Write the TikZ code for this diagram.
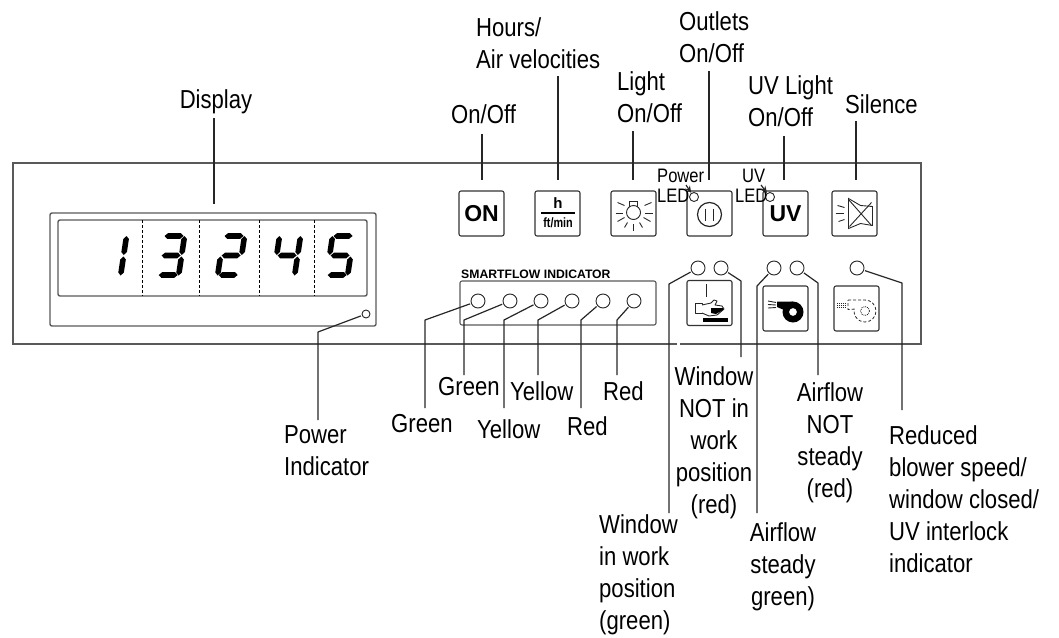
\documentclass[tikz,border=0pt]{standalone}
\usepackage{fontspec}
\setmainfont{Liberation Sans}[FakeStretch = 0.85]
\newfontfamily\iconfont{Liberation Sans}
\usetikzlibrary{arrows.meta}

\tikzset{
	callout/.style = {font = \fontsize{26}{32}\selectfont, inner sep = 0, anchor = base west, align = left},
	calloutmid/.style = {font = \fontsize{26}{32}\selectfont, inner sep = 0, anchor = base, align = center},
	smalltag/.style = {font = \fontsize{19.5}{20}\selectfont, inner sep = 0, anchor = base west},
	leader/.style = {line width = 1.2pt, black!85},
	panelline/.style = {line width = 1.4pt, black!65},
	button/.style = {draw, line width = 1.1pt, black!80, text = black, rounded corners = 2pt, minimum size = 45pt, inner sep = 0},
	led/.style = {draw, circle, line width = 0.9pt, black!85, fill = white, minimum size = 14pt, inner sep = 0},
	tinyled/.style = {led, minimum size = 9pt},
	icon/.style = {line width = 0.9pt, black!85}
}

% Seven segment display
\newcommand{\hseg}[3]{\fill (#1, #2) -- ++(3, -2.8) -- ++(#3 - 6, 0) -- ++(3, 2.8) -- ++(-3, 2.8) -- ++(-#3 + 6, 0) -- cycle;}
\newcommand{\vseg}[3]{\fill (#1, #2) -- ++(2.8, 3) -- ++(0, #3 - 6) -- ++(-2.8, 3) -- ++(-2.8, -3) -- ++(0, -#3 + 6) -- cycle;}
\newcommand{\digitsega}{\hseg{2}{3}{19}}
\newcommand{\digitsegb}{\vseg{22}{3}{19}}
\newcommand{\digitsegc}{\vseg{22}{23.5}{19}}
\newcommand{\digitsegd}{\hseg{2}{42}{19}}
\newcommand{\digitsege}{\vseg{1}{23.5}{19}}
\newcommand{\digitsegf}{\vseg{1}{3}{19}}
\newcommand{\digitsegg}{\hseg{2}{22.5}{19}}
\newcommand{\sevenseg}[2]{
	\begin{scope}[shift = {(#1, 233)}, xslant = 0.15]
		\foreach \s in {#2}
			{\csname digitseg\s\endcsname}
	\end{scope}
}

\begin{document}
\begin{tikzpicture}[x = 1pt, y = -1pt]
\useasboundingbox (0, 0) rectangle (1059, 637);

	% Panel

	\draw [panelline] (680, 344) -- (921, 344) -- (921, 163) -- (13, 163) -- (13, 344) -- (677, 344);

	% Display

	\draw [panelline, rounded corners = 2pt] (50, 213) rectangle (376, 326);
	\draw [panelline, rounded corners = 2pt] (58, 220) rectangle (367, 296);
	\foreach \x in {142, 199, 259, 314}
		\draw [densely dashed, line width = 0.8pt] (\x, 220) -- (\x, 296);

	\sevenseg{105}{b, c}
	\sevenseg{163}{a, b, c, d, g}
	\sevenseg{223}{a, b, d, e, g}
	\sevenseg{279}{b, c, f, g}
	\sevenseg{332}{a, c, d, f, g}

	\node [led, minimum size = 8pt] (powerled) at (366, 314) {};

	% Buttons

	\node [button] (onbutton) at (481.5, 213.5) {\iconfont\bfseries\fontsize{23}{23}\selectfont ON};
	\node [button] (hourbutton) at (557.5, 213.5) {};
	\node [button] (lightbutton) at (633.5, 213.5) {};
	\node [button] (outletbutton) at (709.5, 213.5) {};
	\node [button] (uvbutton) at (785.5, 213.5) {\iconfont\bfseries\fontsize{23}{23}\selectfont UV};
	\node [button] (silencebutton) at (854.5, 213.5) {};
	\node [button] (windowicon) at (709.5, 303) {};
	\node [button] (blowericon) at (785.5, 308.5) {};
	\node [button] (reducedicon) at (856.5, 308.5) {};

	% Hours button

	\node [inner sep = 0, font = \iconfont\bfseries\fontsize{15}{15}\selectfont] (hoursign) at (558, 203.5) {h};
	\node [inner sep = 0, font = \iconfont\bfseries\fontsize{13.5}{14}\selectfont, xscale = 0.8] (ftsign) at (558, 223) {ft/min};
	\draw [line width = 1.2pt] (541, 213) -- (575, 213);

	% Light button

	\begin{scope}[shift = {(lightbutton.center)}, icon]
		\draw (0, -1) circle (7);
		\draw (-4, -7) -- (-4, -12) -- (4, -12) -- (4, -7);
		\foreach \xa/\ya/\xb/\yb in {-16/-11/-9/-8, -18/0/-11/0, -16/8/-9/4, -9/14/-6/9, 0/17/0/10, 9/14/6/9, 17/8/10/4, 19/0/11/0, 18/-11/11/-8}
			\draw (\xa, \ya) -- (\xb, \yb);
	\end{scope}

	% Outlet button

	\begin{scope}[shift = {(outletbutton.center)}, icon]
		\draw [line width = 1.2pt] (0, 1) circle (12);
		\draw [line width = 1.5pt] (-4, -5) -- (-4, 7);
		\draw [line width = 1.5pt] (4, -5) -- (4, 7);
	\end{scope}

	% Silence button

	\begin{scope}[shift = {(silencebutton.center)}, icon]
		\foreach \xa/\ya/\xb/\yb in {-17/-8/-10/-6, -19/0/-11/0, -16/8/-10/6}
			\draw (\xa, \ya) -- (\xb, \yb);
		\draw (-6, -15) -- (6, -8) -- (18, -7) -- (18, 12) -- (6, 10) -- (-6, 15) -- cycle;
		\draw (-6, -14) -- (17, 12);
		\draw (17, -11) -- (-5, 13);
	\end{scope}

	% Window icon

	\draw [icon] (706, 284) -- (706, 297);
	\draw [icon, line join = round] (695, 303) rectangle (702, 313);
	\draw [icon, line join = round, fill = white] (702, 305) -- (711, 303) -- (714, 300) -- (717, 301) -- (715, 305) -- (722, 306) -- (724, 309) -- (717, 315) -- (709, 316) -- (702, 313);
	\fill (711, 308) -- (723, 308) -- (723, 310) -- (716, 314) -- (711, 313) -- cycle;
	\fill (703, 318) rectangle (728, 322);

	% Blower icon

	\fill [even odd rule] (793, 312) circle (10.5) (793, 312) circle (4);
	\fill (777, 301.5) -- (793, 301.5) -- (793, 307) -- (784, 310) -- (777, 307) -- cycle;
	\foreach \ya/\yb in {301/302.5, 304.5/305, 308/307.5}
		\draw [icon] (768, \ya) -- (776, \yb);

	% Reduced speed icon

	\draw [icon, densely dashed, line width = 0.8pt] (848, 300) -- (865, 300) arc (-90 : 190 : 11) -- (848, 309.5) -- cycle;
	\draw [icon, densely dotted, line width = 0.8pt] (865, 311) circle (4.5);
	\foreach \y in {303, 305, 307}
		\draw [icon, densely dotted, line width = 0.8pt] (837, \y) -- (846, \y);

	% Smartflow box

	\draw [panelline, line width = 1.1pt, rounded corners = 2pt] (460, 281) rectangle (656, 325);
	\node [inner sep = 0, anchor = base west, font = \iconfont\bfseries\fontsize{12.2}{13}\selectfont] (smartflow) at (461, 278) {SMARTFLOW INDICATOR};

	% LEDs

	\foreach \name/\x in {greena/478, greenb/510, yellowa/541, yellowb/572, reda/603, redb/634}
		\node [led] (\name) at (\x, 301) {};
	\foreach \name/\x in {windowon/698, windowoff/721, airon/774, airoff/797, reduced/857}
		\node [led] (\name) at (\x, 268) {};
	\node [tinyled] (powertag) at (694, 197) {};
	\node [tinyled] (uvtag) at (770, 197) {};

	% Upper labels

	\node [calloutmid] (displaylabel) at (216, 108) {Display};
	\node [callout] (onlabel) at (451, 123) {On/Off};
	\node [callout] (hourlabel) at (476, 68) {Hours/\\Air velocities};
	\node [callout] (lightlabel) at (617, 122) {Light\\On/Off};
	\node [callout] (outletlabel) at (679, 62) {Outlets\\On/Off};
	\node [callout] (uvlabel) at (748, 126) {UV Light\\On/Off};
	\node [callout] (silencelabel) at (845, 113) {Silence};

	\node [smalltag] (powertext) at (657, 182) {Power};
	\node [smalltag] (powerledtext) at (657, 202) {LED};
	\node [smalltag] (uvtext) at (742, 182) {UV};
	\node [smalltag] (uvledtext) at (735, 202) {LED};

	% Lower labels

	\node [callout] (indicatorlabel) at (284, 475) {Power\\Indicator};
	\node [callout] (greenalabel) at (391, 432) {Green};
	\node [callout] (greenblabel) at (438, 395) {Green};
	\node [callout] (yellowalabel) at (477, 438) {Yellow};
	\node [callout] (yellowblabel) at (510, 400) {Yellow};
	\node [callout] (redalabel) at (567, 435) {Red};
	\node [callout] (redblabel) at (603, 400) {Red};
	\node [callout] (windowonlabel) at (599, 629) {Window\\in work\\position\\(green)};
	\node [calloutmid] (windowofflabel) at (714, 513) {Window\\NOT in\\work\\position\\(red)};
	\node [calloutmid] (aironlabel) at (783, 605) {Airflow\\steady\\green)};
	\node [calloutmid] (airofflabel) at (830, 497) {Airflow\\NOT\\steady\\(red)};
	\node [callout] (reducedlabel) at (889, 572) {Reduced\\blower speed/\\window closed/\\UV interlock\\indicator};

	% Upper leaders

	\foreach \name/\x/\y in {on/482/134, hour/558/76, light/633/131, outlet/709/71, uv/784/136, silence/856/121} {
		\coordinate (\name top) at (\x, \y);
		\coordinate (\name foot) at (\x, 180);
		\draw [leader] (\name top) -- (\name foot);
	}
	\coordinate (displaytop) at (214, 118);
	\coordinate (displayfoot) at (214, 204);
	\draw [leader] (displaytop) -- (displayfoot);

	\coordinate (powertail) at (686, 185);
	\coordinate (uvtail) at (761, 185);
	\draw [leader, -{Stealth[length = 7pt, width = 6pt]}] (powertail) -- (powertag);
	\draw [leader, -{Stealth[length = 7pt, width = 6pt]}] (uvtail) -- (uvtag);

	% Lower leaders

	\foreach \name/\bx/\by/\ey in {powerled/318/332/420, greena/425/320/408, greenb/464/320/375, yellowa/504/320/408, yellowb/538/320/375, reda/581/320/408, redb/617/320/375, windowon/669/284/513, windowoff/741/281/357, airon/757/286/513, airoff/818/283/375, reduced/902/283/410} {
		\coordinate (\name bend) at (\bx, \by);
		\coordinate (\name end) at (\bx, \ey);
		\draw [leader, line join = round, shorten <= 1pt] (\name) -- (\name bend) -- (\name end);
	}

\end{tikzpicture}
\end{document}
